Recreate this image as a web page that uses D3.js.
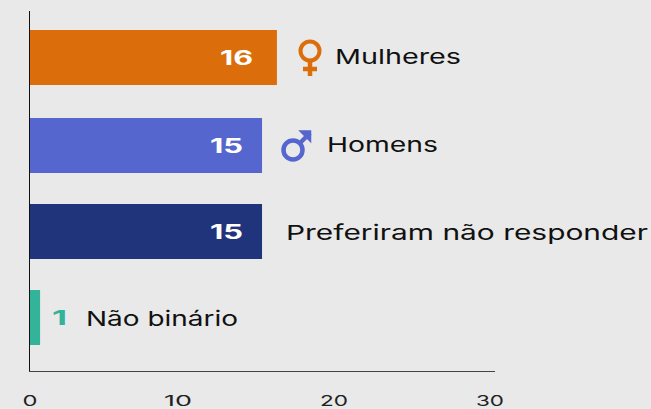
<!DOCTYPE html>
<html><head><meta charset="utf-8">
<script src="https://cdnjs.cloudflare.com/ajax/libs/d3/7.8.5/d3.min.js"></script>
<style>html,body{margin:0;padding:0;background:#e9e9e9}svg{display:block}text{font-family:Inter,"Noto Sans",sans-serif}</style>
</head><body><svg id="c" width="651" height="409"></svg>
<script>
const categories=["Mulheres","Homens","Preferiram não responder","Não binário"];
const shownValues=[16,15,15,1];
const barLengths=[15.93,14.97,14.97,0.65];
const colors=["#db6e0a","#5566ce","#20347c","#32b39a"];
const symbols=["female","male",null,null];
const tickValues=[0,10,20,30];

const svg=d3.select("#c");
const x=d3.scaleLinear().domain([0,30]).range([30,495]);
const tickX=d3.scaleLinear().domain([0,10,30]).range([30,178,490]);
const yTop=d3.scaleOrdinal().domain(categories).range([30,118,204,290]);
const barH=55;
const labelX=d3.scaleOrdinal().domain(categories).range([335,327,286,86]);
const labelW=d3.scaleOrdinal().domain(categories).range([126,111,362,152]);
const labelDy=d3.scaleOrdinal().domain(categories).range([33.5,33.5,35.5,35.5]);
const valueEnd=d3.scaleOrdinal().domain(categories).range([253,243,243,67]);
const valueW=d3.scaleOrdinal().domain(categories).range([33,33,33,15]);

const rows=categories.map((c,i)=>({c,v:shownValues[i],len:barLengths[i],col:colors[i],sym:symbols[i]}));

svg.selectAll("rect.bar").data(rows).join("rect").attr("class","bar")
  .attr("x",x(0)).attr("y",d=>yTop(d.c)).attr("height",barH)
  .attr("width",d=>x(d.len)-x(0)).attr("fill",d=>d.col);

svg.append("line").attr("x1",29.5).attr("x2",29.5).attr("y1",11).attr("y2",372).attr("stroke","#111").attr("stroke-width",1);
svg.append("line").attr("x1",29).attr("x2",495).attr("y1",371.5).attr("y2",371.5).attr("stroke","#444").attr("stroke-width",1);

svg.selectAll("text.val").data(rows).join("text").attr("class","val")
  .attr("x",d=>valueEnd(d.c)-valueW(d.c)).attr("y",d=>yTop(d.c)+barH/2+7.5)
  .attr("textLength",d=>valueW(d.c)).attr("lengthAdjust","spacingAndGlyphs")
  .attr("font-size",20).attr("font-weight",700)
  .attr("fill",d=>d.v<2?d.col:"#fff").text(d=>d.v);

svg.selectAll("text.lab").data(rows).join("text").attr("class","lab")
  .attr("x",d=>labelX(d.c)).attr("y",d=>yTop(d.c)+labelDy(d.c))
  .attr("textLength",d=>labelW(d.c)).attr("lengthAdjust","spacingAndGlyphs")
  .attr("font-size",20.5).attr("font-weight",400).attr("fill","#111").text(d=>d.c);

svg.selectAll("text.tick").data(tickValues).join("text").attr("class","tick")
  .attr("x",d=>tickX(d)).attr("y",405.5).attr("text-anchor","middle")
  .attr("textLength",d=>d===0?15:28).attr("lengthAdjust","spacingAndGlyphs")
  .attr("font-size",14).attr("fill","#222").text(d=>d);

const fem=svg.append("g").attr("transform","translate(310,51)").attr("fill","none").attr("stroke","#db6e0a");
fem.append("circle").attr("r",9.5).attr("stroke-width",4);
fem.append("path").attr("d","M0 10V25M-7 18H7").attr("stroke-width",4.5);

const mal=svg.append("g").attr("transform","translate(293,150)").attr("fill","none").attr("stroke","#5566ce");
mal.append("circle").attr("r",9.5).attr("stroke-width",4.5);
mal.append("path").attr("d","M7 -7L17 -17").attr("stroke-width",4.5);
mal.append("path").attr("d","M7 -19H17.5V-8.5L7 -19Z").attr("stroke-width",1.5).attr("fill","#5566ce");
</script></body></html>
